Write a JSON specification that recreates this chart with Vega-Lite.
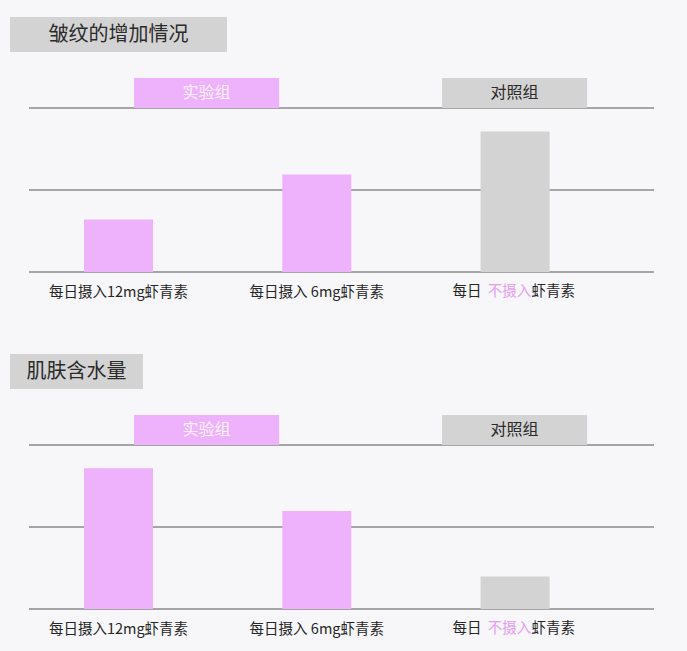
{
  "$schema": "https://vega.github.io/schema/vega-lite/v6.json",
  "background": "#f7f7f9",
  "padding": {"left": 10, "top": 17, "right": 33, "bottom": 16},
  "config": {
    "view": {"stroke": null},
    "font": "Noto Sans CJK SC"
  },
  "spacing": 55,
  "vconcat": [
    {
      "spacing": 26,
      "vconcat": [
        {
          "width": 217,
          "height": 35,
          "view": {"fill": "#d3d3d3", "stroke": null},
          "data": {"values": [{"title": "皱纹的增加情况"}]},
          "mark": {"type": "text", "fontSize": 20, "color": "#2b2b2b", "baseline": "middle"},
          "encoding": {"text": {"field": "title"}}
        },
        {
          "width": 644,
          "height": 194,
          "layer": [
            {
              "data": {"values": [{"line": 0}, {"line": 1}, {"line": 2}]},
              "mark": {"type": "rule", "color": "#8a8a8a", "strokeWidth": 1.5},
              "encoding": {
                "x": {"datum": "start", "type": "nominal", "scale": {"type": "point", "domain": ["start", "end"], "padding": 0.0152, "align": 1}, "axis": null},
                "x2": {"datum": "end"},
                "y": {"field": "line", "type": "quantitative", "scale": {"domain": [0, 2.366], "nice": false, "zero": true}, "axis": null}
              }
            },
            {
              "data": {
                "values": [
                  {"item": "每日摄入12mg虾青素", "group": "实验组", "value": 0.64},
                  {"item": "每日摄入 6mg虾青素", "group": "实验组", "value": 1.19},
                  {"item": "每日 不摄入虾青素", "group": "对照组", "value": 1.715}
                ]
              },
              "encoding": {
                "x": {
                  "field": "item",
                  "type": "nominal",
                  "sort": null,
                  "scale": {"type": "band", "paddingInner": 0.652, "paddingOuter": 0.4498, "align": 0.4148},
                  "axis": {
                    "title": null,
                    "labelAngle": 0,
                    "labelFontSize": 14.5,
                    "labelColor": "#262626",
                    "labelPadding": 13,
                    "ticks": false,
                    "tickSize": 0,
                    "domain": false,
                    "labelExpr": "indexof(datum.label, '不摄入') >= 0 ? '' : datum.label"
                  }
                }
              },
              "layer": [
                {
                  "mark": {"type": "bar"},
                  "encoding": {
                    "y": {"field": "value", "type": "quantitative", "axis": null},
                    "color": {
                      "field": "group",
                      "type": "nominal",
                      "scale": {"domain": ["实验组", "对照组"], "range": ["#eeb1fb", "#d3d3d3"]},
                      "legend": null
                    }
                  }
                },
                {
                  "transform": [{"filter": "datum.group === '对照组'"}],
                  "mark": {"type": "text", "fontSize": 14.5, "color": "#262626", "baseline": "top", "align": "right", "dy": 13, "dx": -33.5},
                  "encoding": {
                    "y": {"datum": 0, "type": "quantitative", "axis": null},
                    "text": {"value": "每日"}
                  }
                },
                {
                  "transform": [{"filter": "datum.group === '对照组'"}],
                  "mark": {"type": "text", "fontSize": 14.5, "color": "#e59df2", "baseline": "top", "align": "center", "dy": 13, "dx": -5.5},
                  "encoding": {
                    "y": {"datum": 0, "type": "quantitative", "axis": null},
                    "text": {"value": "不摄入"}
                  }
                },
                {
                  "transform": [{"filter": "datum.group === '对照组'"}],
                  "mark": {"type": "text", "fontSize": 14.5, "color": "#262626", "baseline": "top", "align": "left", "dy": 13, "dx": 16.5},
                  "encoding": {
                    "y": {"datum": 0, "type": "quantitative", "axis": null},
                    "text": {"value": "虾青素"}
                  }
                }
              ]
            },
            {
              "data": {"values": [{"group": "实验组"}, {"group": "对照组"}]},
              "encoding": {
                "x": {
                  "field": "group",
                  "type": "nominal",
                  "sort": null,
                  "scale": {"type": "band", "domain": ["实验组", "对照组"], "paddingInner": 0.529, "paddingOuter": 0.31, "align": 0.6496},
                  "axis": null
                }
              },
              "layer": [
                {
                  "mark": {"type": "rect"},
                  "encoding": {
                    "y": {"datum": 2, "type": "quantitative", "axis": null},
                    "y2": {"datum": 2.366},
                    "color": {"field": "group", "type": "nominal", "legend": null}
                  }
                },
                {
                  "mark": {"type": "text", "fontSize": 16, "baseline": "middle"},
                  "encoding": {
                    "y": {"datum": 2.183, "type": "quantitative", "axis": null},
                    "text": {"field": "group"},
                    "color": {"condition": {"test": "datum.group === '实验组'", "value": "#fbf2fd"}, "value": "#2b2b2b"}
                  }
                }
              ]
            }
          ],
          "resolve": {"scale": {"x": "independent"}}
        }
      ]
    },
    {
      "spacing": 26,
      "vconcat": [
        {
          "width": 133,
          "height": 35,
          "view": {"fill": "#d3d3d3", "stroke": null},
          "data": {"values": [{"title": "肌肤含水量"}]},
          "mark": {"type": "text", "fontSize": 20, "color": "#2b2b2b", "baseline": "middle"},
          "encoding": {"text": {"field": "title"}}
        },
        {
          "width": 644,
          "height": 194,
          "layer": [
            {
              "data": {"values": [{"line": 0}, {"line": 1}, {"line": 2}]},
              "mark": {"type": "rule", "color": "#8a8a8a", "strokeWidth": 1.5},
              "encoding": {
                "x": {"datum": "start", "type": "nominal", "scale": {"type": "point", "domain": ["start", "end"], "padding": 0.0152, "align": 1}, "axis": null},
                "x2": {"datum": "end"},
                "y": {"field": "line", "type": "quantitative", "scale": {"domain": [0, 2.366], "nice": false, "zero": true}, "axis": null}
              }
            },
            {
              "data": {
                "values": [
                  {"item": "每日摄入12mg虾青素", "group": "实验组", "value": 1.716},
                  {"item": "每日摄入 6mg虾青素", "group": "实验组", "value": 1.195},
                  {"item": "每日 不摄入虾青素", "group": "对照组", "value": 0.395}
                ]
              },
              "encoding": {
                "x": {
                  "field": "item",
                  "type": "nominal",
                  "sort": null,
                  "scale": {"type": "band", "paddingInner": 0.652, "paddingOuter": 0.4498, "align": 0.4148},
                  "axis": {
                    "title": null,
                    "labelAngle": 0,
                    "labelFontSize": 14.5,
                    "labelColor": "#262626",
                    "labelPadding": 13,
                    "ticks": false,
                    "tickSize": 0,
                    "domain": false,
                    "labelExpr": "indexof(datum.label, '不摄入') >= 0 ? '' : datum.label"
                  }
                }
              },
              "layer": [
                {
                  "mark": {"type": "bar"},
                  "encoding": {
                    "y": {"field": "value", "type": "quantitative", "axis": null},
                    "color": {
                      "field": "group",
                      "type": "nominal",
                      "scale": {"domain": ["实验组", "对照组"], "range": ["#eeb1fb", "#d3d3d3"]},
                      "legend": null
                    }
                  }
                },
                {
                  "transform": [{"filter": "datum.group === '对照组'"}],
                  "mark": {"type": "text", "fontSize": 14.5, "color": "#262626", "baseline": "top", "align": "right", "dy": 13, "dx": -33.5},
                  "encoding": {
                    "y": {"datum": 0, "type": "quantitative", "axis": null},
                    "text": {"value": "每日"}
                  }
                },
                {
                  "transform": [{"filter": "datum.group === '对照组'"}],
                  "mark": {"type": "text", "fontSize": 14.5, "color": "#e59df2", "baseline": "top", "align": "center", "dy": 13, "dx": -5.5},
                  "encoding": {
                    "y": {"datum": 0, "type": "quantitative", "axis": null},
                    "text": {"value": "不摄入"}
                  }
                },
                {
                  "transform": [{"filter": "datum.group === '对照组'"}],
                  "mark": {"type": "text", "fontSize": 14.5, "color": "#262626", "baseline": "top", "align": "left", "dy": 13, "dx": 16.5},
                  "encoding": {
                    "y": {"datum": 0, "type": "quantitative", "axis": null},
                    "text": {"value": "虾青素"}
                  }
                }
              ]
            },
            {
              "data": {"values": [{"group": "实验组"}, {"group": "对照组"}]},
              "encoding": {
                "x": {
                  "field": "group",
                  "type": "nominal",
                  "sort": null,
                  "scale": {"type": "band", "domain": ["实验组", "对照组"], "paddingInner": 0.529, "paddingOuter": 0.31, "align": 0.6496},
                  "axis": null
                }
              },
              "layer": [
                {
                  "mark": {"type": "rect"},
                  "encoding": {
                    "y": {"datum": 2, "type": "quantitative", "axis": null},
                    "y2": {"datum": 2.366},
                    "color": {"field": "group", "type": "nominal", "legend": null}
                  }
                },
                {
                  "mark": {"type": "text", "fontSize": 16, "baseline": "middle"},
                  "encoding": {
                    "y": {"datum": 2.183, "type": "quantitative", "axis": null},
                    "text": {"field": "group"},
                    "color": {"condition": {"test": "datum.group === '实验组'", "value": "#fbf2fd"}, "value": "#2b2b2b"}
                  }
                }
              ]
            }
          ],
          "resolve": {"scale": {"x": "independent"}}
        }
      ]
    }
  ]
}
